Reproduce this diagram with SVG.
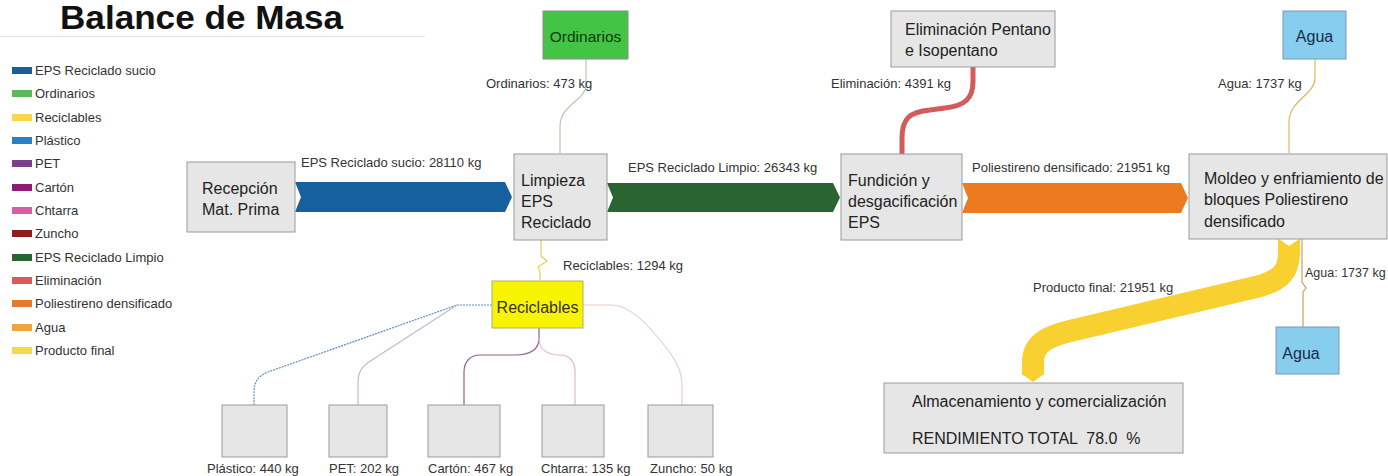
<svg xmlns="http://www.w3.org/2000/svg" width="1388" height="476" viewBox="0 0 1388 476">
<style>
text{font-family:"Liberation Sans",Arial,sans-serif;fill:#222}
.lg{font-size:13px;fill:#333}
.lb{font-size:13px;fill:#333}
.nd{fill:#e6e6e6;stroke:#9a9a9a;stroke-width:1}
.nt{font-size:16px;fill:#222}
.thin{fill:none;stroke-width:1.2}
</style>
<rect width="1388" height="476" fill="#fff"/>
<text x="60" y="29" style="font-size:33px;font-weight:bold;fill:#111" textLength="283" lengthAdjust="spacingAndGlyphs">Balance de Masa</text>
<line x1="0" y1="36.5" x2="425" y2="36.5" stroke="#e2e2e2"/>
<g id="legend">
<rect x="12" y="67" width="20" height="7" fill="#1a5e96"/><text class="lg" x="35" y="75">EPS Reciclado sucio</text>
<rect x="12" y="90" width="20" height="7" fill="#5cb85c"/><text class="lg" x="35" y="98">Ordinarios</text>
<rect x="12" y="114" width="20" height="7" fill="#f7d84a"/><text class="lg" x="35" y="122">Reciclables</text>
<rect x="12" y="137" width="20" height="7" fill="#2e7fc0"/><text class="lg" x="35" y="145">Plástico</text>
<rect x="12" y="160" width="20" height="7" fill="#7b3f8c"/><text class="lg" x="35" y="168">PET</text>
<rect x="12" y="184" width="20" height="7" fill="#8e1c72"/><text class="lg" x="35" y="192">Cartón</text>
<rect x="12" y="207" width="20" height="7" fill="#d95fa3"/><text class="lg" x="35" y="215">Chtarra</text>
<rect x="12" y="230" width="20" height="7" fill="#8e1d1d"/><text class="lg" x="35" y="238">Zuncho</text>
<rect x="12" y="254" width="20" height="7" fill="#2a6432"/><text class="lg" x="35" y="262">EPS Reciclado Limpio</text>
<rect x="12" y="277" width="20" height="7" fill="#e05a55"/><text class="lg" x="35" y="285">Eliminación</text>
<rect x="12" y="300" width="20" height="7" fill="#e57a2b"/><text class="lg" x="35" y="308">Poliestireno densificado</text>
<rect x="12" y="324" width="20" height="7" fill="#f2a43a"/><text class="lg" x="35" y="332">Agua</text>
<rect x="12" y="347" width="20" height="7" fill="#f7d84a"/><text class="lg" x="35" y="355">Producto final</text>
</g>
<g id="connectors">
<polygon points="295,182 505,182 512,197 505,212 295,212 301,197" fill="#1660a0"/>
<polygon points="607,183 833,183 840,197.5 833,212 607,212 613,197.5" fill="#2b6433"/>
<polygon points="962,183 1181,183 1188,198 1181,213 962,213 968,198" fill="#ee7a1f"/>
<path d="M902,154 V138 C902,118 910,112 930,110 L945,108 C965,106 973,98 973,82 V67" fill="none" stroke="#d35b5b" stroke-width="5"/>
<path d="M560,153 V126 C560,105 586,100 586,85 V59" class="thin" stroke="#b8c8b0"/>
<path d="M1289,153 V122 C1289,100 1315,95 1315,78 V59" class="thin" stroke="#e2b55a"/>
<path d="M541,240 V256 L547,261 L538,267 L540,272 V280" class="thin" stroke="#e8cc50"/>
<path d="M1302,239 V282 L1306,288 L1303,292 V327" class="thin" stroke="#c8a060"/>
<path d="M1289,239 V252 C1289,272 1280,280 1260,286 L1070,331 C1045,337 1033,345 1033,362 V375" fill="none" stroke="#f8d030" stroke-width="22"/>
<polygon points="1278,238.5 1300,238.5 1289,246" fill="#fff"/>
<polygon points="1022,374 1044,374 1033,382" fill="#f8d030"/>
<path d="M492,305 H457 L268,372 C258,376 254,382 254,392 V405" class="thin" stroke="#5a8ec8" stroke-dasharray="2,1"/>
<path d="M457,305 L372,360 C362,366 358,372 358,382 V405" class="thin" stroke="#c8b4d4"/>
<path d="M539,328 V338 C539,350 530,355 515,355 H480 C470,355 464,362 464,372 V405" class="thin" stroke="#9a5a8a"/>
<path d="M539,338 C539,350 548,355 560,355 C570,355 575,362 575,372 V405" class="thin" stroke="#e0b8d0"/>
<path d="M583,305 H612 C625,305 640,315 660,340 C675,358 682,370 682,385 V405" class="thin" stroke="#e8d0cc"/>
</g>
<g id="labels">
<text class="lb" x="301" y="167">EPS Reciclado sucio: 28110 kg</text>
<text class="lb" x="628" y="172">EPS Reciclado Limpio: 26343 kg</text>
<text class="lb" x="972" y="172">Poliestireno densificado: 21951 kg</text>
<text class="lb" x="486" y="88">Ordinarios: 473 kg</text>
<text class="lb" x="831" y="88">Eliminación: 4391 kg</text>
<text class="lb" x="1218" y="88">Agua: 1737 kg</text>
<text class="lb" x="563" y="270">Reciclables: 1294 kg</text>
<text class="lb" x="1033" y="292">Producto final: 21951 kg</text>
<text class="lb" x="1305" y="277" style="font-size:12.5px">Agua: 1737 kg</text>
</g>
<g id="n-recepcion"><rect class="nd" x="187" y="162" width="108" height="70"/><text class="nt" x="202" y="194">Recepción</text><text class="nt" x="202" y="215">Mat. Prima</text></g>
<g id="n-limpieza"><rect class="nd" x="514" y="154" width="93" height="86"/><text class="nt" x="521" y="186">Limpieza</text><text class="nt" x="521" y="207">EPS</text><text class="nt" x="521" y="228">Reciclado</text></g>
<g id="n-fundicion"><rect class="nd" x="841" y="154" width="121" height="86"/><text class="nt" x="848" y="186">Fundición y</text><text class="nt" x="848" y="207">desgacificación</text><text class="nt" x="848" y="228">EPS</text></g>
<g id="n-moldeo"><rect class="nd" x="1189" y="154" width="198" height="85"/><text class="nt" x="1204" y="184">Moldeo y enfriamiento de</text><text class="nt" x="1204" y="205">bloques Poliestireno</text><text class="nt" x="1204" y="227">densificado</text></g>
<g id="n-ordinarios"><rect x="543" y="11" width="85" height="48" fill="#44c444" stroke="#8a8a8a"/><text x="585.5" y="42" text-anchor="middle" style="font-size:15.5px;fill:#0e3a0e">Ordinarios</text></g>
<g id="n-eliminacion"><rect class="nd" x="891" y="11" width="164" height="56"/><text class="nt" x="905" y="35">Eliminación Pentano</text><text class="nt" x="905" y="56">e Isopentano</text></g>
<g id="n-agua-top"><rect x="1283" y="11" width="63" height="48" fill="#86cdee" stroke="#7a9ab0"/><text x="1314.5" y="42" text-anchor="middle" style="font-size:16px;fill:#1a2a4a">Agua</text></g>
<g id="n-agua-bottom"><rect x="1276" y="327" width="63" height="47" fill="#86cdee" stroke="#7a9ab0"/><text x="1301" y="359" text-anchor="middle" style="font-size:16px;fill:#1a2a4a">Agua</text></g>
<g id="n-almacenamiento"><rect class="nd" x="884" y="383" width="299" height="70"/><text class="nt" x="912" y="407">Almacenamiento y comercialización</text><text class="nt" x="912" y="444" xml:space="preserve">RENDIMIENTO TOTAL  78.0  %</text></g>
<g id="n-reciclables"><rect x="492" y="281" width="91" height="47" fill="#f8f400" stroke="#b0b070"/><text x="537.5" y="313" text-anchor="middle" style="font-size:16px;fill:#333">Reciclables</text></g>
<g id="n-plastico"><rect class="nd" x="222" y="405" width="65" height="52"/><text class="lb" x="207" y="473">Plástico: 440 kg</text></g>
<g id="n-pet"><rect class="nd" x="329" y="405" width="58" height="52"/><text class="lb" x="329" y="473">PET: 202 kg</text></g>
<g id="n-carton"><rect class="nd" x="428" y="405" width="72" height="52"/><text class="lb" x="428" y="473">Cartón: 467 kg</text></g>
<g id="n-chtarra"><rect class="nd" x="542" y="405" width="62" height="52"/><text class="lb" x="541" y="473">Chtarra: 135 kg</text></g>
<g id="n-zuncho"><rect class="nd" x="648" y="405" width="65" height="52"/><text class="lb" x="650" y="473">Zuncho: 50 kg</text></g>
</svg>
